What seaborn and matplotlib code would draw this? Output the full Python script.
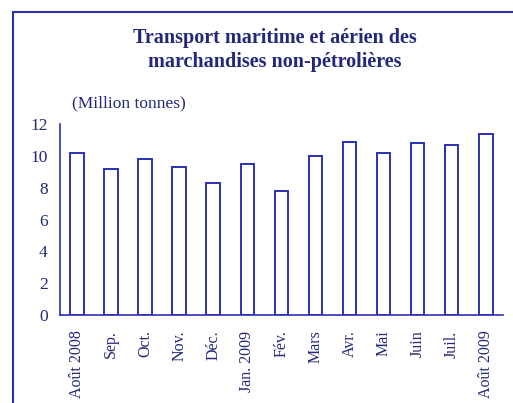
import matplotlib
matplotlib.use("Agg")
import matplotlib.pyplot as plt
import seaborn as sns
import pandas as pd
from matplotlib.patches import Rectangle

# data
months = ["Août 2008", "Sep.", "Oct.", "Nov.", "Déc.", "Jan. 2009", "Fév.",
          "Mars", "Avr.", "Mai", "Juin", "Juil.", "Août 2009"]
tonnes = [10.2, 9.2, 9.8, 9.3, 8.3, 9.5, 7.8, 10.0, 10.9, 10.2, 10.8, 10.7, 11.4]
yticks = [0, 2, 4, 6, 8, 10, 12]

df = pd.DataFrame({"mois": months, "tonnes": tonnes})

sns.set_style("white")
plt.rcParams["font.family"] = ["Liberation Serif", "DejaVu Serif"]

line_col = "#2b2fb5"
text_col = "#23287a"

fig = plt.figure(figsize=(5.13, 4.03), dpi=100)
ax = fig.add_axes([0.117, 0.218, 0.863, 0.474])

sns.barplot(data=df, x="mois", y="tonnes", color="white", edgecolor=line_col,
            linewidth=1.4, width=0.4, saturation=1, ax=ax)

ax.set_ylim(0, 12)
ax.set_xlim(-0.5, 12.45)
ax.set_yticks(yticks)
ax.set_yticklabels([str(v) for v in yticks], fontsize=12.5, color=text_col)
ax.set_xticks(range(len(months)))
ax.set_xticklabels(months, rotation=90, fontsize=11.5, color=text_col)
ax.tick_params(axis="x", length=0, pad=11)
ax.set_xticks([i - 0.5 for i in range(len(months) + 1)], minor=True)
ax.tick_params(axis="x", which="minor", direction="out", length=4, width=1.2, color=line_col)
ax.tick_params(axis="y", direction="out", length=4, width=1.2, color=line_col, pad=5)
ax.set_xlabel("")
ax.set_ylabel("")

for side in ["top", "right"]:
    ax.spines[side].set_visible(False)
for side in ["left", "bottom"]:
    ax.spines[side].set_color(line_col)
    ax.spines[side].set_linewidth(1.2)

fig.text(0.535, 0.875, "Transport maritime et aérien des\nmarchandises non-pétrolières",
         ha="center", va="center", fontsize=14.5, fontweight="bold", color=text_col,
         linespacing=1.25)
fig.text(0.140, 0.744, "(Million tonnes)", ha="left", va="center", fontsize=12.5,
         color=text_col)

# frame around the figure, cut off at right and bottom like the scan
fig.patches.append(Rectangle((0.026, -0.05), 1.1, 1.02, transform=fig.transFigure,
                             fill=False, edgecolor=line_col, linewidth=1.5))

fig.savefig("out.png", dpi=100)
